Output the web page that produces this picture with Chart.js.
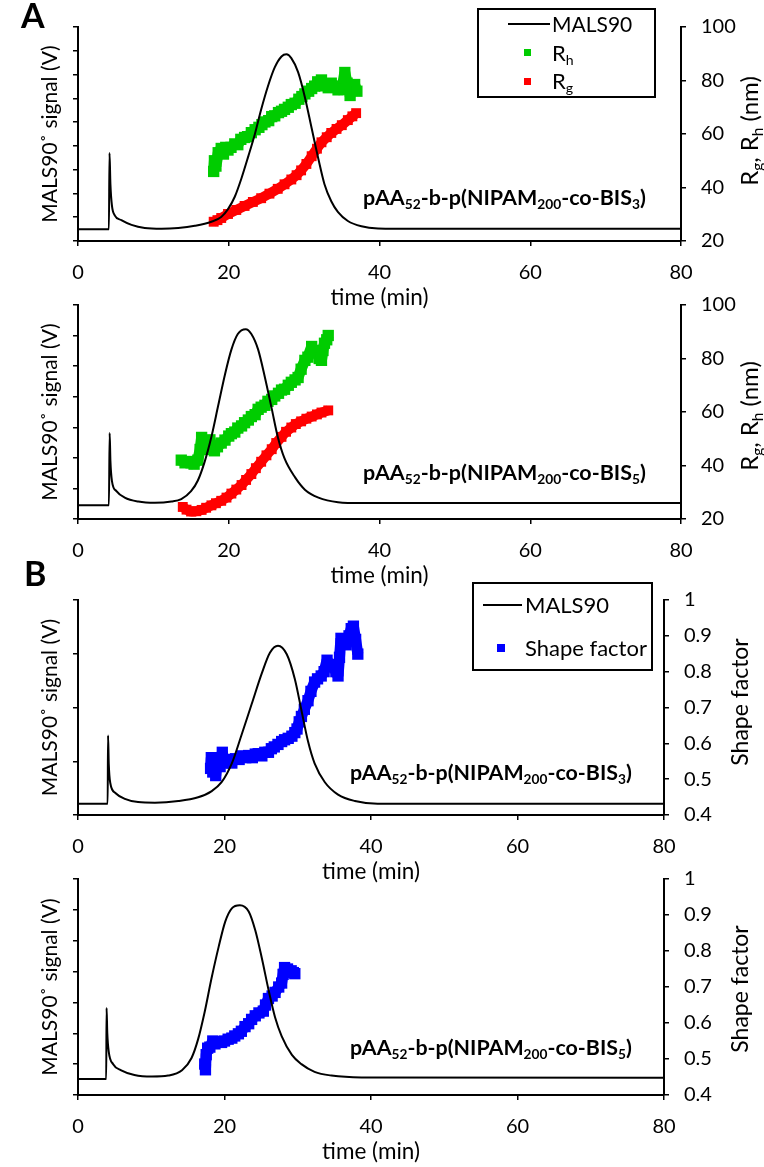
<!DOCTYPE html>
<html>
<head>
<meta charset="utf-8">
<script src="https://cdn.jsdelivr.net/npm/chart.js@4.4.1/dist/chart.umd.min.js"></script>
<style>
  body { margin: 0; background: #fff; }
  #wrap { position: relative; width: 764px; height: 1167px; overflow: hidden; }
  canvas { position: absolute; left: 0; }
  .panel { position: absolute; font: bold 34px Lato; line-height: 1; color: #000; }
</style>
</head>
<body>
<div id="wrap">
  <canvas id="a1" width="764" height="311" style="top:0px"></canvas>
  <canvas id="a2" width="764" height="311" style="top:278px"></canvas>
  <canvas id="b1" width="764" height="312" style="top:573px"></canvas>
  <canvas id="b2" width="764" height="313" style="top:852px"></canvas>
  <div class="panel" style="left:21px;top:-2px">A</div>
  <div class="panel" style="left:24px;top:556px">B</div>
</div>
<script>
// --- data ---
// panel A, BIS3
const malsA1Time = [0, 4.1, 4.18, 4.3, 4.5, 4.87, 5.75, 7.1, 8.85, 11.1, 13.3, 15.5, 17.7, 19.0, 19.9, 20.8, 21.7, 22.6, 23.45, 24.3, 25.2, 26.1, 27.0, 27.65, 28.3, 29.2, 30.1, 31.0, 31.9, 32.7, 33.6, 34.5, 35.8, 37.6, 39.8, 45, 80];
const malsA1 = [0.49, 0.49, 3.70, 2.4, 1.5, 1.08, 0.88, 0.68, 0.55, 0.52, 0.55, 0.64, 0.81, 1.01, 1.34, 1.86, 2.65, 3.57, 4.48, 5.53, 6.51, 7.30, 7.76, 7.85, 7.69, 7.10, 6.05, 4.74, 3.44, 2.39, 1.67, 1.21, 0.84, 0.62, 0.53, 0.51, 0.51];
const rhA1Time = [18.0, 18.1, 18.3, 18.6, 19.0, 19.3, 19.6, 19.9, 20.3, 20.8, 21.2, 21.6, 22.1, 22.5, 23.0, 23.5, 24.0, 24.4, 24.8, 25.3, 25.7, 26.1, 26.6, 27.0, 27.4, 27.9, 28.3, 28.8, 29.3, 29.7, 30.1, 30.6, 31.0, 31.4, 31.8, 32.3, 32.7, 33.2, 33.6, 34.1, 34.5, 35.0, 35.4, 35.7, 36.1, 36.4, 36.7, 37.0];
const rhA1 = [46, 50, 48, 53, 54.6, 52.5, 55, 54, 55, 56.3, 56, 58, 58.7, 59, 60.5, 61.6, 62.5, 63.5, 64.5, 65, 66.5, 66.8, 68, 68.5, 69.2, 70, 71, 71.5, 73, 74, 75, 76, 77, 77.9, 79.5, 80.2, 78, 77.3, 79, 77.9, 76.5, 76.7, 83, 79, 74.4, 77, 78.5, 76];
const rgA1Time = [18.0, 18.5, 19.0, 19.9, 21.0, 22.1, 23.2, 24.3, 25.4, 26.5, 27.4, 28.3, 29.0, 29.6, 30.3, 31.0, 31.7, 32.3, 33.0, 33.6, 34.3, 35.0, 35.8, 36.4, 36.9];
const rgA1 = [27.2, 27.8, 28.6, 30.1, 31.6, 33.1, 34.6, 36.0, 37.7, 39.5, 41.2, 43.0, 44.6, 46.4, 48.8, 51.7, 54.5, 56.9, 58.8, 60.4, 61.9, 63.3, 65.2, 66.6, 67.8];

// panel A, BIS5
const malsA2Time = [0, 4.1, 4.2, 4.3, 4.5, 5.1, 6.2, 8.0, 10.2, 12.4, 13.7, 15.0, 15.9, 16.8, 17.7, 18.6, 19.5, 20.35, 21.2, 22.25, 23.0, 23.9, 24.8, 25.7, 26.5, 27.4, 28.8, 30.1, 31.9, 34.5, 37.6, 80];
const malsA2 = [0.45, 0.45, 2.81, 1.9, 1.25, 0.91, 0.70, 0.57, 0.53, 0.57, 0.65, 0.91, 1.26, 1.87, 2.69, 3.71, 4.73, 5.54, 6.05, 6.21, 6.05, 5.54, 4.63, 3.61, 2.69, 1.98, 1.36, 0.96, 0.70, 0.55, 0.52, 0.52];
const rhA2Time = [13.7, 14.2, 14.7, 15.0, 15.4, 15.9, 16.2, 16.4, 16.7, 16.8, 17.2, 17.5, 17.8, 18.1, 18.5, 19.0, 19.5, 20.0, 20.35, 20.8, 21.2, 21.7, 22.1, 22.6, 23.0, 23.5, 23.9, 24.3, 24.8, 25.2, 25.7, 26.1, 26.6, 27.0, 27.4, 27.9, 28.3, 28.8, 29.2, 29.6, 30.1, 30.5, 31.0, 31.3, 31.6, 32.0, 32.3, 32.5, 32.7, 33.0, 33.2];
const rhA2 = [42.0, 41, 41.5, 41, 40.5, 42, 46, 50.5, 47, 46, 48, 49.6, 47, 45.5, 47, 48.4, 49.5, 51, 51.9, 52.5, 54, 54.8, 56, 57, 58.3, 59, 61, 61.8, 62.5, 64, 64.7, 66, 67, 68.2, 68.5, 70, 71.1, 72, 72.9, 76, 79.3, 80.5, 84.5, 83, 82.7, 80, 79.3, 83, 85.7, 87, 88.6];
const rgA2Time = [13.9, 14.4, 15.0, 15.7, 16.4, 17.0, 17.7, 18.3, 19.0, 19.7, 20.35, 21.0, 21.7, 22.3, 23.0, 23.6, 24.3, 25.0, 25.7, 26.3, 27.0, 27.6, 28.3, 28.9, 29.6, 30.3, 31.0, 31.7, 32.3, 33.2];
const rgA2 = [24.5, 23.5, 22.8, 22.9, 23.4, 24.2, 25.1, 25.9, 26.8, 28.0, 29.5, 31.0, 32.7, 34.6, 36.8, 39.0, 41.4, 43.8, 46.1, 48.4, 50.7, 52.6, 54.2, 55.5, 56.5, 57.5, 58.3, 59.1, 59.8, 60.6];

// panel B, BIS3
const malsB1Time = [0, 4.05, 4.1, 4.2, 4.4, 5.1, 6.4, 8.2, 10.5, 13.7, 16.4, 18.2, 19.6, 21.0, 22.3, 23.7, 25.1, 26.2, 27.3, 28.5, 29.6, 30.5, 31.4, 32.3, 33.7, 35.5, 37.8, 40.9, 80];
const malsB1 = [0.21, 0.21, 1.48, 0.95, 0.6, 0.41, 0.30, 0.24, 0.23, 0.26, 0.33, 0.44, 0.61, 0.96, 1.48, 2.06, 2.64, 3.02, 3.15, 2.99, 2.53, 1.95, 1.37, 0.96, 0.61, 0.38, 0.26, 0.21, 0.21];
const sfB1Time = [18.1, 18.2, 18.4, 18.6, 18.8, 19.1, 19.4, 19.7, 20.0, 20.3, 20.6, 21.0, 21.5, 22.0, 22.4, 22.9, 23.3, 23.8, 24.2, 24.6, 25.1, 25.5, 26.0, 26.4, 26.8, 27.3, 27.8, 28.2, 28.7, 29.2, 29.6, 29.9, 30.2, 30.5, 30.9, 31.4, 31.8, 32.3, 32.7, 33.2, 33.6, 34.0, 34.4, 34.8, 35.2, 35.5, 35.7, 35.9, 36.3, 36.6, 37.0, 37.3, 37.6, 37.9, 38.2];
const sfB1 = [0.53, 0.56, 0.52, 0.555, 0.51, 0.56, 0.535, 0.575, 0.545, 0.555, 0.55, 0.545, 0.557, 0.555, 0.565, 0.56, 0.566, 0.56, 0.57, 0.571, 0.565, 0.575, 0.575, 0.585, 0.59, 0.597, 0.605, 0.61, 0.614, 0.62, 0.63, 0.64, 0.66, 0.675, 0.695, 0.719, 0.745, 0.771, 0.78, 0.788, 0.80, 0.832, 0.82, 0.814, 0.80, 0.788, 0.84, 0.893, 0.88, 0.875, 0.9, 0.92, 0.927, 0.89, 0.849];

// panel B, BIS5
const malsB2Time = [0, 3.85, 3.9, 4.0, 4.2, 4.8, 5.9, 7.7, 10.1, 12.3, 14.2, 15.5, 16.4, 17.3, 18.2, 19.2, 20.1, 21.0, 22.1, 23.3, 24.2, 25.1, 26.0, 26.9, 27.8, 29.2, 30.5, 32.3, 34.6, 38.7, 80];
const malsB2 = [0.52, 0.52, 2.82, 2.0, 1.40, 1.00, 0.80, 0.65, 0.60, 0.63, 0.80, 1.20, 1.81, 2.70, 3.75, 4.80, 5.62, 6.05, 6.15, 5.95, 5.34, 4.43, 3.42, 2.52, 1.91, 1.30, 1.00, 0.75, 0.63, 0.57, 0.56];
const sfB2Time = [17.3, 17.4, 17.5, 17.7, 18.0, 18.4, 18.7, 19.1, 19.6, 20.0, 20.5, 21.0, 21.4, 21.9, 22.3, 22.8, 23.3, 23.7, 24.2, 24.7, 25.3, 25.6, 26.0, 26.5, 26.9, 27.4, 27.8, 28.0, 28.2, 28.6, 29.1, 29.4, 29.6];
const sfB2 = [0.486, 0.47, 0.512, 0.53, 0.533, 0.55, 0.542, 0.548, 0.546, 0.55, 0.555, 0.558, 0.564, 0.57, 0.577, 0.59, 0.598, 0.61, 0.620, 0.628, 0.633, 0.65, 0.668, 0.675, 0.685, 0.70, 0.711, 0.735, 0.754, 0.75, 0.745, 0.74, 0.737];

const timeTicks = [0, 20, 40, 60, 80];
const sampleBIS3 = [["pAA", 0], ["52", 1], ["-b-p(NIPAM", 0], ["200", 1], ["-co-BIS", 0], ["3", 1], [")", 0]];
const sampleBIS5 = [["pAA", 0], ["52", 1], ["-b-p(NIPAM", 0], ["200", 1], ["-co-BIS", 0], ["5", 1], [")", 0]];
const radiusTitle = [["R", 0], ["g", 1], [", R", 0], ["h", 1], [" (nm)", 0]];

const GREEN = "rgb(0,204,0)";
const RED = "rgb(255,0,0)";
const BLUE = "rgb(0,0,255)";
const FONT = "Lato";

function pts(xs, ys) {
  return xs.map((x, i) => ({ x: x, y: ys[i] }));
}

// draw text with subscript pieces, returns width
function rich(ctx, parts, x, y, size, bold, draw) {
  let cx = x;
  for (const [s, sub] of parts) {
    const fs = sub ? size * 0.64 : size;
    ctx.font = (bold ? "bold " : "") + fs + "px " + FONT;
    if (draw) ctx.fillText(s, cx, sub ? y + size * 0.2 : y);
    cx += ctx.measureText(s).width;
  }
  return cx - x;
}

function fitRich(ctx, parts, x, y, width, bold) {
  const w20 = rich(ctx, parts, 0, 0, 20, bold, false);
  rich(ctx, parts, x, y, 20 * width / w20, bold, true);
}

function vertTitle(ctx, parts, cx, cy, size) {
  ctx.save();
  ctx.translate(cx, cy);
  ctx.rotate(-Math.PI / 2);
  const w = rich(ctx, parts, 0, 0, size, false, false);
  rich(ctx, parts, -w / 2, size * 0.35, size, false, true);
  ctx.restore();
}

function legendBox(ctx, x, y, w, h) {
  ctx.fillStyle = "#fff";
  ctx.fillRect(x, y, w, h);
  ctx.strokeStyle = "#000";
  ctx.lineWidth = 2;
  ctx.strokeRect(x, y, w, h);
}

const decoPlugin = {
  id: "deco",
  afterDraw(chart, args, opts) {
    const ctx = chart.ctx;
    ctx.save();
    ctx.fillStyle = "#000";
    ctx.textBaseline = "alphabetic";
    ctx.textAlign = "left";
    if (opts.draw) opts.draw(ctx, chart);
    ctx.restore();
  }
};

function grid() {
  return { drawOnChartArea: false, drawTicks: true, tickLength: 5, color: "#000", lineWidth: 1.5 };
}
const border = { display: true, color: "#000", width: 2 };

function makePanel(id, leftMax, rightW, right, datasets, draw) {
  new Chart(document.getElementById(id), {
    type: "line",
    data: { datasets: datasets },
    options: {
      responsive: false,
      animation: false,
      events: [],
      layout: { padding: { top: 12, left: 0, right: 0, bottom: 0 } },
      plugins: { legend: { display: false }, tooltip: { enabled: false }, deco: { draw: draw } },
      scales: {
        x: {
          type: "linear", min: 0, max: 80,
          afterBuildTicks: s => { s.ticks = timeTicks.map(v => ({ value: v })); },
          ticks: { font: { family: FONT, size: 20 }, color: "#000", padding: 15, maxRotation: 0 },
          grid: grid(), border: border,
          title: { display: true, text: "time (min)", font: { family: FONT, size: 22.5 }, color: "#000", padding: 0 },
          afterFit: s => { s.height = 70; }
        },
        yL: {
          position: "left", min: 0, max: leftMax,
          ticks: { stepSize: 1, callback: () => "" },
          grid: grid(), border: border,
          title: { display: true, text: "MALS90˚ signal (V)", font: { family: FONT, size: 21 }, color: "#000", padding: { top: 38, bottom: 0 } },
          afterFit: s => { s.width = 78; }
        },
        yR: Object.assign({
          position: "right",
          grid: grid(), border: border,
          afterFit: s => { s.width = rightW; }
        }, right)
      }
    },
    plugins: [decoPlugin]
  });
}

function mals(t, v) {
  return { label: "MALS90", data: pts(t, v), yAxisID: "yL", borderColor: "#000", borderWidth: 2,
    pointRadius: 0, cubicInterpolationMode: "monotone", order: 0 };
}
function marks(label, t, v, color, size) {
  return { label: label, data: pts(t, v), yAxisID: "yR", borderColor: color, backgroundColor: color,
    borderWidth: size + 3, borderJoinStyle: "bevel", pointStyle: "rect", pointRadius: size, pointBorderWidth: 0, order: 1 };
}

const radiusAxis = {
  min: 20, max: 100,
  ticks: { stepSize: 10, font: { family: FONT, size: 20 }, color: "#000", padding: 15,
    callback: v => (v % 20 === 0 ? v : "") }
};
const shapeAxis = {
  min: 0.4, max: 1,
  ticks: { stepSize: 0.1, font: { family: FONT, size: 20 }, color: "#000", padding: 15,
    callback: v => String(Math.round(v * 10) / 10) }
};

function shapeTitle(ctx, cx, cy) {
  ctx.save();
  ctx.translate(cx, cy);
  ctx.rotate(-Math.PI / 2);
  ctx.textAlign = "center";
  ctx.font = "23px " + FONT;
  ctx.fillText("Shape factor", 0, 8);
  ctx.restore();
}

makePanel("a1", 9, 83, radiusAxis, [
  mals(malsA1Time, malsA1),
  marks("Rh", rhA1Time, rhA1, GREEN, 8),
  marks("Rg", rgA1Time, rgA1, RED, 7)
], (ctx) => {
  legendBox(ctx, 478, 9, 177, 88);
  ctx.fillStyle = "#000";
  ctx.fillRect(508, 23, 42, 2);
  ctx.font = "21px " + FONT;
  ctx.fillText("MALS90", 552, 32);
  ctx.fillStyle = GREEN;
  ctx.fillRect(524, 49, 7, 7);
  ctx.fillStyle = RED;
  ctx.fillRect(524, 78, 7, 7);
  ctx.fillStyle = "#000";
  rich(ctx, [["R", 0], ["h", 1]], 552, 61, 22, false, true);
  rich(ctx, [["R", 0], ["g", 1]], 552, 89, 22, false, true);
  fitRich(ctx, sampleBIS3, 363, 205, 283, true);
  vertTitle(ctx, radiusTitle, 750, 131, 24);
});

makePanel("a2", 7, 83, radiusAxis, [
  mals(malsA2Time, malsA2),
  marks("Rh", rhA2Time, rhA2, GREEN, 8),
  marks("Rg", rgA2Time, rgA2, RED, 7)
], (ctx) => {
  fitRich(ctx, sampleBIS5, 363, 202, 283, true);
  vertTitle(ctx, radiusTitle, 750, 138, 24);
});

makePanel("b1", 4, 100, shapeAxis, [
  mals(malsB1Time, malsB1),
  marks("Shape factor", sfB1Time, sfB1, BLUE, 8)
], (ctx) => {
  legendBox(ctx, 473, 10, 179, 87);
  ctx.fillStyle = "#000";
  ctx.fillRect(483, 31, 39, 2);
  ctx.font = "22px " + FONT;
  ctx.fillText("MALS90", 525, 40);
  ctx.fillStyle = BLUE;
  ctx.fillRect(497, 71, 8, 8);
  ctx.fillStyle = "#000";
  ctx.fillText("Shape factor", 525, 83);
  fitRich(ctx, sampleBIS3, 350, 207, 282, true);
  shapeTitle(ctx, 740, 129);
});

makePanel("b2", 7, 100, shapeAxis, [
  mals(malsB2Time, malsB2),
  marks("Shape factor", sfB2Time, sfB2, BLUE, 8)
], (ctx) => {
  fitRich(ctx, sampleBIS5, 350, 203, 282, true);
  shapeTitle(ctx, 740, 137);
});
</script>
</body>
</html>
